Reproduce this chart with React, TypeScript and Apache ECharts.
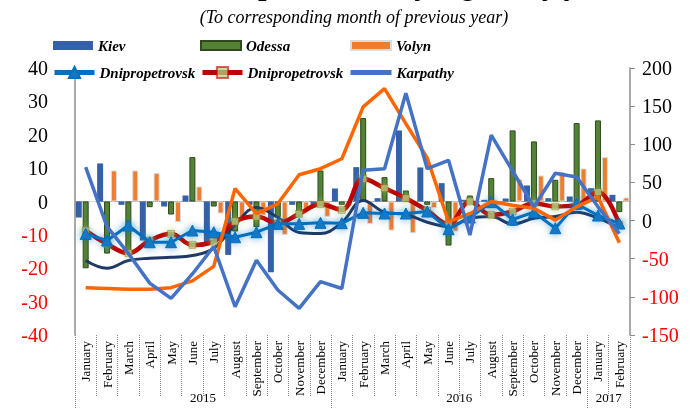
import React, { useEffect, useRef } from 'react';
import * as echarts from 'echarts';

const months = [
  'January', 'February', 'March', 'April', 'May', 'June', 'July', 'August',
  'September', 'October', 'November', 'December',
  'January', 'February', 'March', 'April', 'May', 'June', 'July', 'August',
  'September', 'October', 'November', 'December',
  'January', 'February',
];
const yearNames = ['2015', '2016', '2017'];
const yearCenters = [6, 18, 25];
const yearBounds = [0, 12, 24, 26];

const kiev = [-4.8, 11.4, -1, -11.7, -1.5, 1.8, -13, -16, -1, -21.2, -1, -1, 3.9, 10.3, 1, 21.3, 10.2, 5.5, 0.5, 0.5, 0.9, 4.8, 1, 1.5, 4, 2];
const odessa = [-20, -15.6, -14.7, -1.7, -3.9, 13.3, -1.5, -9, -7.7, -4.7, -4.6, 9.3, -1, 25, 7.3, 3.3, -1, -13.2, 1.8, 7, 21.3, 18, 6.5, 23.5, 24.3, -3.2];
const volyn = [0, 9.3, 9.3, 8.5, -6.2, 4.5, -3.6, -4.7, -4.2, -10, -2.7, -4.6, -1.5, -6.7, -8.7, -9.5, -2, -9, -2, -1, 6.7, 7.8, 8.8, 9.9, 13.3, 1.2];
const dniproBlue = [-9.7, -11.7, -7.2, -12.2, -12.2, -8.7, -9.2, -10.7, -9.2, -6.7, -6.7, -6.4, -6.5, -3.4, -3.6, -3.6, -3.0, -8.3, -4.8, -0.2, -5.4, -3.2, -8, -0.7, -4.2, -6.6];
const dniproRed = [-8.7, -12.7, -15.5, -11.7, -9.7, -13, -12, -6, -4.5, -6.5, -3.7, -0.8, -2.5, 6.8, 4, 1, -2.7, -6.8, 0, -4, -3, -0.5, -1.5, -1, 2.8, -7];
const navy = [-17.7, -20, -17.7, -17, -16.7, -16.2, -14, -7, -1.8, -4.8, -9.3, -9.6, -6.3, 0.3, -3.2, -3.9, -6.2, -7.5, -5, -4.5, -6.8, -5, -4.5, -3.2, -5, -8];
const orange = [-88, -89, -90, -90, -88, -79, -60, 42, 9, 22, 60, 68, 81, 149, 173, 127, 82, -1.5, 9, 25, 20, 16, 0.6, 18, 31, -29];
const karpathy = [70, -8, -43, -82, -102, -70, -34, -113, -52, -91, -115, -80, -89, 66, 68, 167, 68, 79, -19, 112, 65, 18, 62, 57, 18, -17];

const serif = '"Liberation Serif", "Times New Roman", serif';
const legendText = { fontFamily: serif, fontSize: 15, fontWeight: 'bold', fontStyle: 'italic', color: '#000' };

export default function App() {
  const ref = useRef<HTMLDivElement>(null);
  useEffect(() => {
    const chart = echarts.init(ref.current!, null, { renderer: 'svg' });
    const redSign = (v: any) => (Number(v) < 0 ? '#FF0000' : '#000000');
    const option: any = {
      animation: false,
      grid: { left: 75, right: 63, top: 68, bottom: 74, containLabel: false, outerBoundsMode: 'none' },
      graphic: [
        {
          type: 'text', x: 355, y: -16,
          style: { text: 'Industrial production by regions, y/y', fontSize: 30, fontWeight: 'bold', fontStyle: 'italic', fontFamily: serif, align: 'center', verticalAlign: 'middle', fill: '#000' },
        },
        {
          type: 'text', x: 354, y: 17,
          style: { text: '(To corresponding month of previous year)', fontSize: 18, fontStyle: 'italic', fontFamily: serif, align: 'center', verticalAlign: 'middle', fill: '#000' },
        },
      ],
      legend: [
        { data: ['Kiev'], left: 53, top: 38, padding: 0, icon: 'rect', itemWidth: 40, itemHeight: 9, textStyle: legendText },
        { data: ['Odessa'], left: 200, top: 38, padding: 0, icon: 'rect', itemWidth: 40, itemHeight: 9, textStyle: legendText },
        { data: ['Volyn'], left: 350, top: 38, padding: 0, icon: 'rect', itemWidth: 40, itemHeight: 9, textStyle: legendText },
        { data: ['Dnipropetrovsk'], left: 52, top: 65, padding: 0, itemWidth: 40, itemHeight: 14, textStyle: legendText, lineStyle: { width: 5 } },
        { data: ['Dnipropetrovsk '], left: 200, top: 65, padding: 0, itemWidth: 40, itemHeight: 14, textStyle: legendText, lineStyle: { width: 5 } },
        { data: [{ name: 'Karpathy', itemStyle: { opacity: 0 } }], left: 348, top: 65, padding: 0, itemWidth: 41, itemHeight: 14, textStyle: legendText, lineStyle: { width: 5 } },
      ],
      xAxis: [
        {
          type: 'category', data: months, position: 'bottom', boundaryGap: true,
          axisLine: { show: false, onZero: false },
          axisTick: { show: true, interval: 0, length: 62, lineStyle: { type: 'dotted', color: '#8a8a8a' } },
          axisLabel: { interval: 0, rotate: 90, margin: 6, fontFamily: serif, fontSize: 13, color: '#000' },
          splitLine: { show: false },
        },
        {
          type: 'category', data: months, position: 'bottom',
          axisLine: { show: true, onZero: true, onZeroAxisIndex: 0, lineStyle: { type: 'dotted', color: '#9a9a9a', width: 1 } },
          axisTick: { show: false }, axisLabel: { show: false }, splitLine: { show: false },
        },
        {
          type: 'value', min: 0, max: 26, position: 'bottom',
          axisLine: { show: false, onZero: false },
          splitLine: { show: false },
          axisTick: { show: true, customValues: yearBounds, length: 74, lineStyle: { type: 'dotted', color: '#8a8a8a' } },
          axisLabel: {
            customValues: yearCenters, margin: 56, fontFamily: serif, fontSize: 13, color: '#000',
            formatter: (v: number) => yearNames[yearCenters.indexOf(Math.round(v))] || '',
          },
        },
      ],
      yAxis: [
        {
          type: 'value', position: 'left', min: -40, max: 40, interval: 10,
          axisLine: { show: true, lineStyle: { color: '#8c8c8c', width: 1.5 } },
          axisTick: { show: false }, splitLine: { show: false },
          axisLabel: { margin: 27, fontFamily: serif, fontSize: 20, color: redSign },
        },
        {
          type: 'value', position: 'right', min: -150, max: 200, interval: 50,
          axisLine: { show: true, lineStyle: { color: '#8c8c8c', width: 1.5 } },
          axisTick: { show: true, length: 5, lineStyle: { color: '#8c8c8c' } }, splitLine: { show: false },
          axisLabel: { margin: 12, fontFamily: serif, fontSize: 20, color: redSign },
        },
      ],
      series: [
        { name: 'Kiev', type: 'bar', data: kiev, barWidth: 6, barGap: '15%', itemStyle: { color: '#3461A8' }, z: 1 },
        { name: 'Odessa', type: 'bar', data: odessa, barWidth: 6, itemStyle: { color: '#548235', borderColor: '#2F4A1E', borderWidth: 1 }, z: 1 },
        { name: 'Volyn', type: 'bar', data: volyn, barWidth: 6, itemStyle: { color: '#ED7D31', borderColor: '#DCDCDC', borderWidth: 1 }, z: 1 },
        { name: 'Trend', type: 'line', data: navy, smooth: 0.4, symbol: 'none', lineStyle: { color: '#1F3864', width: 3 }, z: 3 },
        {
          name: 'Dnipropetrovsk ', type: 'line', data: dniproRed, smooth: 0.4, symbol: 'rect', symbolSize: 7,
          itemStyle: { color: 'rgba(170,215,130,0.75)', borderColor: 'rgba(192,0,0,0.6)', borderWidth: 0.5, shadowBlur: 6, shadowColor: 'rgba(146,208,80,0.9)' },
          lineStyle: { color: '#C00000', width: 4.5 }, z: 4,
        },
        {
          name: 'Dnipropetrovsk', type: 'line', data: dniproBlue, symbol: 'triangle', symbolSize: 11,
          itemStyle: { color: '#1478C4', borderColor: '#0070C0', borderWidth: 1, shadowBlur: 8, shadowColor: 'rgba(0,112,192,0.6)' },
          lineStyle: { color: '#0070C0', width: 3, shadowBlur: 6, shadowColor: 'rgba(0,112,192,0.5)' }, z: 5,
        },
        { name: 'Volyn index', type: 'line', yAxisIndex: 1, data: orange, symbol: 'none', lineStyle: { color: '#FF6600', width: 3.5 }, z: 6 },
        { name: 'Karpathy', type: 'line', yAxisIndex: 1, data: karpathy, symbol: 'none', itemStyle: { color: '#4472C4' }, lineStyle: { color: '#4472C4', width: 3.5 }, z: 7 },
      ],
    };
    chart.setOption(option);
    return () => chart.dispose();
  }, []);
  return <div ref={ref} style={{ position: 'fixed', left: 0, top: 0, width: 693, height: 409 }} />;
}
